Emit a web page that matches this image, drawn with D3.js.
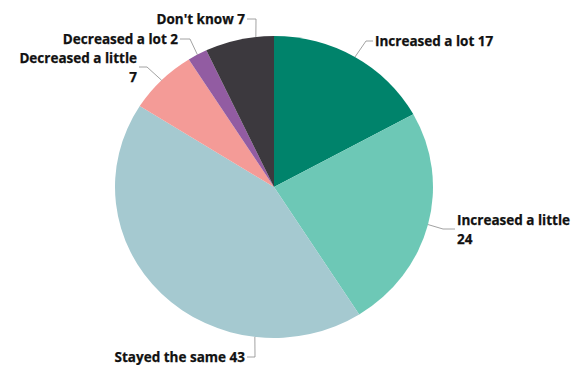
<!DOCTYPE html>
<html>
<head>
<meta charset="utf-8">
<script src="https://cdn.jsdelivr.net/npm/d3@7"></script>
<style>
  body { margin: 0; background: #fff; }
  .label { font-family: "Open Sans", "Liberation Sans", sans-serif; font-weight: 700; font-size: 13.5px; fill: #111; stroke: #111; stroke-width: 0.25px; }
</style>
</head>
<body>
<script>
var categories = ["Increased a lot", "Increased a little", "Stayed the same", "Decreased a little", "Decreased a lot", "Don't know"];
var values = [17, 24, 43, 7, 2, 7];
var colours = ["#00836b", "#6dc8b6", "#a5c9d0", "#f49b97", "#925ca2", "#3c393e"];

var width = 587, height = 365;
var cx = 274, cy = 187;
var rx = 159, ry = 151;

// where each label sits: side (1 right, -1 left), text x, leader y,
// two lines or one, and where along its slice the leader touches (0..1)
var labelLayout = [
    {side: 1, x: 375, y: 41, wrap: false, at: 0.5, elbow: 9},
    {side: 1, x: 457, y: 229, wrap: true, at: 0.5, elbow: 14},
    {side: -1, x: 245, y: 357, wrap: false, at: 0.254, elbow: 10},
    {side: -1, x: 137, y: 67, wrap: true, at: 0.5, elbow: 10},
    {side: -1, x: 178, y: 39, wrap: false, at: 0.5, elbow: 12},
    {side: -1, x: 245, y: 19, wrap: false, at: 0.74, elbow: 11}
];

var data = categories.map(function(c, i) {
    return {name: c, value: values[i], colour: colours[i], layout: labelLayout[i]};
});

var svg = d3.select("body").append("svg")
    .attr("width", width)
    .attr("height", height);

var pie = d3.pie()
    .sort(null)
    .value(function(d) { return d.value; });

var arcs = pie(data);

var arc = d3.arc()
    .innerRadius(0)
    .outerRadius(ry);

svg.append("g")
    .attr("transform", "translate(" + cx + "," + cy + ") scale(" + (rx / ry) + ",1)")
    .selectAll("path")
    .data(arcs)
    .enter()
    .append("path")
        .attr("d", arc)
        .attr("fill", function(d) { return d.data.colour; });

// leader lines
function edgePoint(d) {
    var a = d.startAngle + (d.endAngle - d.startAngle) * d.data.layout.at;
    return [cx + rx * Math.sin(a), cy - ry * Math.cos(a)];
}

var line = d3.line();

svg.append("g")
    .selectAll("path")
    .data(arcs)
    .enter()
    .append("path")
        .attr("d", function(d) {
            var l = d.data.layout;
            var p = edgePoint(d);
            var e = [l.x - l.side * l.elbow, l.y];
            var h = [l.x - l.side * 2, l.y];
            return line([p, e, h]);
        })
        .attr("fill", "none")
        .attr("stroke", "#8a8a8a")
        .attr("stroke-width", 0.8);

var labels = svg.append("g")
    .selectAll("text")
    .data(arcs)
    .enter()
    .append("text")
        .attr("class", "label")
        .attr("text-anchor", function(d) { return d.data.layout.side > 0 ? "start" : "end"; });

labels.each(function(d) {
    var l = d.data.layout;
    var lines = l.wrap ? [d.data.name, String(d.data.value)] : [d.data.name + " " + d.data.value];
    var base = l.y + 5 - (lines.length - 1) * 9;
    d3.select(this).selectAll("tspan")
        .data(lines)
        .enter()
        .append("tspan")
            .attr("x", l.x)
            .attr("y", function(t, i) { return base + i * 18.5; })
            .text(function(t) { return t; });
});
</script>
</body>
</html>
